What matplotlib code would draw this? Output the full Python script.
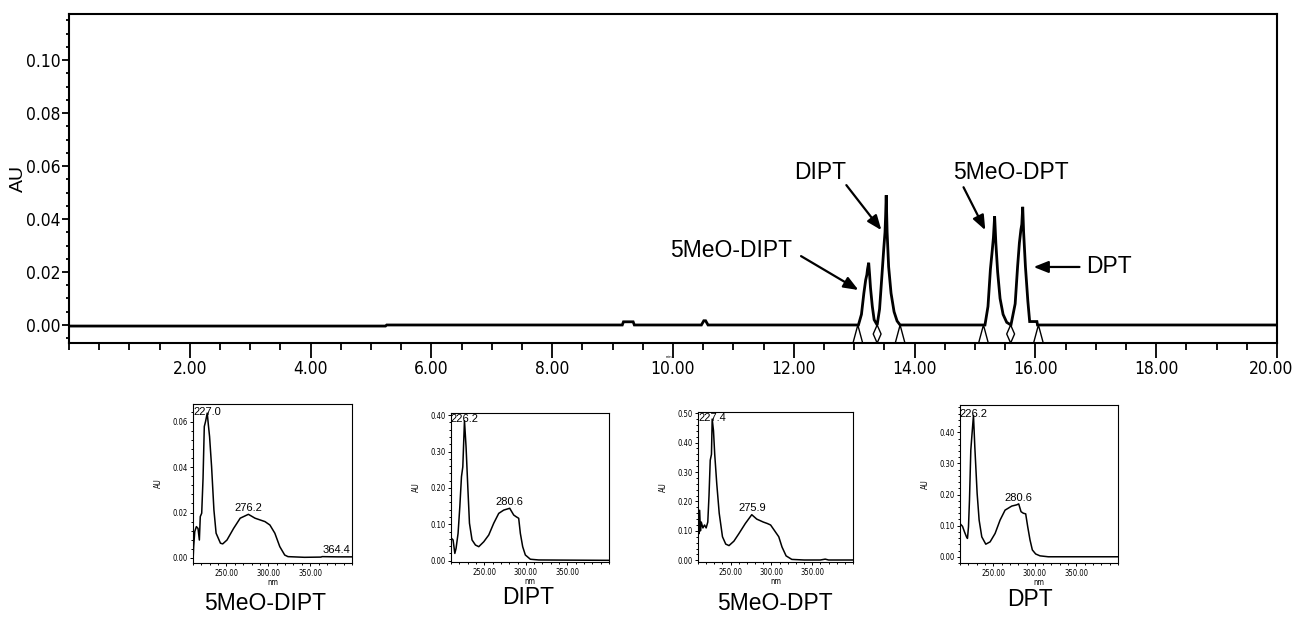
"""HPLC chromatogram of four tryptamines with their PDA UV spectra underneath."""

import numpy as np
import matplotlib

matplotlib.use("Agg")
import matplotlib.pyplot as plt
from matplotlib import font_manager
from matplotlib.transforms import ScaledTranslation
from matplotlib.ticker import MultipleLocator, FormatStrFormatter

W, H = 1294, 619

# chromatogram trace: retention time (min) vs absorbance (AU)
trace_t = [0.0, 5.24, 5.26, 9.16, 9.18, 9.34, 9.36, 10.47, 10.51, 10.54, 10.58,
           13.07, 13.12, 13.16, 13.19, 13.21, 13.22, 13.24, 13.255, 13.27, 13.30, 13.33,
           13.38, 13.42, 13.46, 13.49, 13.51, 13.52, 13.53, 13.545, 13.57, 13.61, 13.66, 13.71,
           13.76, 15.165, 15.215, 15.255, 15.285, 15.305, 15.325, 15.345, 15.375, 15.415,
           15.465, 15.525, 15.595, 15.665, 15.705, 15.735, 15.76, 15.775, 15.79, 15.805,
           15.835, 15.875, 15.905, 16.025, 16.035, 20.0]
trace_v = [-0.0004, -0.0004, 0.0, 0.0, 0.0012, 0.0012, 0.0, 0.0, 0.0016, 0.0016, 0.0,
           0.0, 0.004, 0.012, 0.017, 0.019, 0.021, 0.0235, 0.019, 0.014, 0.007, 0.002,
           0.0, 0.006, 0.019, 0.029, 0.035, 0.041, 0.049, 0.035, 0.022, 0.012, 0.005, 0.0015,
           0.0, 0.0, 0.007, 0.021, 0.028, 0.033, 0.041, 0.031, 0.020, 0.010, 0.004, 0.001,
           0.0, 0.008, 0.022, 0.031, 0.036, 0.038, 0.0446, 0.035, 0.022, 0.009, 0.0013,
           0.0013, 0.0, 0.0]

# integration boundaries
bound_t = [13.06, 13.38, 13.76, 15.14, 15.59, 16.05]
bound_kind = ["start", "valley", "end", "start", "valley", "end"]

peak_names = ["5MeO-DIPT", "DIPT", "5MeO-DPT", "DPT"]
time_ticks = [2, 4, 6, 8, 10, 12, 14, 16, 18, 20]

# UV spectra (nm, AU)
wl1 = [210, 210.8, 212.1, 214, 216, 217.6, 218.7, 220.4, 222, 223.5, 225, 227, 228.5, 229.8,
       232.2, 235, 237.6, 242.8, 245.5, 250.6, 258.5, 266.4, 276.2, 284.1, 296, 301.9, 307.8,
       313.7, 319.6, 323.5, 343.2, 362.8, 364.4, 382.5, 400]
au1 = [-0.0016, 0.005, 0.0116, 0.0138, 0.013, 0.0079, 0.0182, 0.0197, 0.035, 0.0578, 0.060,
       0.0637, 0.058, 0.0534, 0.0402, 0.0211, 0.0109, 0.0065, 0.0062, 0.0079, 0.013, 0.0175,
       0.0192, 0.0175, 0.016, 0.0145, 0.0109, 0.005, 0.0013, 0.0006, 0.0003, 0.0004, 0.0006,
       0.0005, 0.0005]
wl2 = [210, 210.6, 212.5, 214.6, 216.1, 218.5, 220.6, 222.6, 224.2, 226.2, 228.1, 230.2, 232.2,
       235.3, 239.4, 243.4, 249.4, 255.4, 261.4, 267.4, 273.4, 280.6, 285.4, 288.2, 291.4,
       293.4, 296.2, 299.4, 305.4, 315.4, 347.4, 400]
au2 = [0.048, 0.0615, 0.057, 0.020, 0.034, 0.075, 0.148, 0.231, 0.258, 0.385, 0.313, 0.203,
       0.103, 0.057, 0.043, 0.0385, 0.052, 0.0706, 0.103, 0.130, 0.139, 0.144, 0.1255, 0.121,
       0.1165, 0.075, 0.0385, 0.0157, 0.004, 0.002, 0.0016, 0.001]
wl3 = [210, 211, 212, 213, 214, 216, 218, 220, 222, 223.5, 225, 226.5, 227.4, 229, 230.5, 233,
       236, 240, 244, 248, 254, 260, 268, 275.9, 282, 290, 295, 299, 304, 309, 313, 318, 325,
       340, 360, 366, 370, 380, 400]
au3 = [0.13, 0.09, 0.17, 0.10, 0.13, 0.11, 0.12, 0.11, 0.13, 0.22, 0.34, 0.36, 0.48, 0.44, 0.36,
       0.26, 0.16, 0.08, 0.055, 0.05, 0.065, 0.09, 0.125, 0.155, 0.14, 0.13, 0.125, 0.12, 0.10,
       0.08, 0.045, 0.015, 0.003, 0.001, 0.001, 0.004, 0.001, 0.001, 0.001]
wl4 = [210, 210.6, 213, 215.4, 217.8, 219, 220.2, 221.4, 223, 224.2, 226.2, 227.8, 229, 230.6,
       233, 236.2, 241, 246.2, 252.2, 258.2, 264.2, 272.2, 278.2, 280.6, 283.4, 286.2, 289,
       291.4, 294.2, 297, 301, 306.2, 316.2, 400]
au4 = [0.096, 0.105, 0.098, 0.080, 0.064, 0.059, 0.096, 0.182, 0.343, 0.386, 0.455, 0.354, 0.29,
       0.204, 0.118, 0.064, 0.0405, 0.048, 0.075, 0.118, 0.150, 0.163, 0.167, 0.170, 0.145,
       0.140, 0.138, 0.097, 0.054, 0.022, 0.009, 0.003, 0.0, 0.0]
spec_peaks = [[227.0, 276.2, 364.4], [226.2, 280.6], [227.4, 275.9], [226.2, 280.6]]
wl_ticks = [250, 300, 350]

# fonts: condensed face for the instrument-style tick labels
_names = {f.name for f in font_manager.fontManager.ttflist}
if "Liberation Sans Narrow" in _names:
    plt.rcParams["font.family"] = ["Liberation Sans Narrow"]
else:
    plt.rcParams["font.family"] = ["DejaVu Sans"]
    plt.rcParams["font.stretch"] = "condensed"
SANS = dict(family="Liberation Sans", stretch="normal")


def px_axes(fig, l, t, r, b):
    return fig.add_axes([l / W, 1 - b / H, (r - l) / W, (b - t) / H])


fig = plt.figure(figsize=(W / 100, H / 100), dpi=100)

# ---- chromatogram ----
ax = px_axes(fig, 69, 14, 1277, 343)
YMIN, YMAX = -0.0068, 0.1174
ax.plot(trace_t, trace_v, color="k", lw=2.0, solid_joinstyle="miter")
for t, kind in zip(bound_t, bound_kind):
    if kind == "valley":
        hw = 0.065
        ax.plot([t, t - hw, t, t + hw, t], [0, YMIN / 2, YMIN, YMIN / 2, 0], color="k", lw=1.0)
    else:
        hw = 0.08
        ax.plot([t - hw, t, t + hw], [YMIN, 0, YMIN], color="k", lw=1.0)

ax.set_xticks(time_ticks)
ax.xaxis.set_minor_locator(MultipleLocator(0.5))
ax.yaxis.set_major_locator(MultipleLocator(0.02))
ax.yaxis.set_minor_locator(MultipleLocator(0.005))
ax.xaxis.set_major_formatter(FormatStrFormatter("%.2f"))
ax.yaxis.set_major_formatter(FormatStrFormatter("%.2f"))
ax.set_xlim(0.0, 20.0)
ax.set_ylim(YMIN, YMAX)
ax.tick_params(axis="both", which="both", direction="out", width=1.3, labelsize=12.5)
ax.tick_params(axis="x", which="major", length=11, pad=1)
ax.tick_params(axis="x", which="minor", length=5)
ax.tick_params(axis="y", which="major", length=5, pad=1)
ax.tick_params(axis="y", which="minor", length=2)
for s in ax.spines.values():
    s.set_linewidth(1.5)
# last time label sits against the figure edge
last = ax.get_xticklabels()[-1]
last.set_transform(last.get_transform() + ScaledTranslation(-6 / 100, 0, fig.dpi_scale_trans))
fig.text(18 / W, 1 - 178 / H, "AU", rotation=90, ha="center", va="center", fontsize=14, **SANS)
fig.text(669 / W, 1 - 357 / H, "min", ha="center", va="center", fontsize=3, **SANS)

# peak labels and arrows
label_xy = [(10.96, 0.0283), (12.44, 0.0574), (15.59, 0.0574), (17.21, 0.0219)]
arrow_from = [(12.12, 0.0260), (12.87, 0.0528), (14.81, 0.0520), (16.73, 0.0219)]
arrow_to = [(13.07, 0.0132), (13.45, 0.0358), (15.17, 0.0358), (15.97, 0.0219)]
for name, xy, a0, a1 in zip(peak_names, label_xy, arrow_from, arrow_to):
    ax.text(*xy, name, ha="center", va="center", fontsize=16.5, **SANS)
    ax.annotate("", xy=a1, xytext=a0,
                arrowprops=dict(arrowstyle="-|>,head_length=0.55,head_width=0.22",
                                mutation_scale=16, color="k", lw=1.6, shrinkA=0, shrinkB=0))

# ---- UV spectra insets ----
spectra = [(wl1, au1), (wl2, au2), (wl3, au3), (wl4, au4)]
inset_box = [(193, 404, 352, 563), (451, 413, 609, 562), (698, 412, 853, 562), (960, 405, 1118, 563)]
inset_ylim = [(-0.0022, 0.0677), (-0.0036, 0.4058), (-0.0058, 0.504), (-0.020, 0.488)]
inset_step = [(0.02, 0.004), (0.1, 0.02), (0.1, 0.02), (0.1, 0.02)]
title_px = [(265, 603), (528, 598), (775, 603), (1030, 600)]

for (wl, au), box, ylim, (maj, mnr), peaks, name, tp in zip(
        spectra, inset_box, inset_ylim, inset_step, spec_peaks, peak_names, title_px):
    sa = px_axes(fig, *box)
    sa.plot(wl, au, color="k", lw=1.1)
    sa.set_xticks(wl_ticks)
    sa.xaxis.set_minor_locator(MultipleLocator(10))
    sa.yaxis.set_major_locator(MultipleLocator(maj))
    sa.yaxis.set_minor_locator(MultipleLocator(mnr))
    sa.xaxis.set_major_formatter(FormatStrFormatter("%.2f"))
    sa.yaxis.set_major_formatter(FormatStrFormatter("%.2f"))
    sa.set_xlim(210, 400)
    sa.set_ylim(*ylim)
    sa.tick_params(axis="both", which="both", direction="out", width=0.7, labelsize=5.5, pad=1.5)
    sa.tick_params(axis="both", which="major", length=2.5)
    sa.tick_params(axis="both", which="minor", length=1.2)
    for s in sa.spines.values():
        s.set_linewidth(0.8)
    w_px = box[2] - box[0]
    h_px = box[3] - box[1]
    sa.set_ylabel("AU", fontsize=5.5)
    sa.yaxis.set_label_coords(-30 / w_px, 0.5)
    sa.set_xlabel("nm", fontsize=5.5)
    sa.xaxis.set_label_coords(0.5, -15 / h_px)
    for i, p in enumerate(peaks):
        y = float(np.interp(p, wl, au))
        if i == 0:
            sa.annotate(f"{p:.1f}", (p, y), xytext=(0, 1), textcoords="offset points",
                        ha="center", va="center", fontsize=8, **SANS)
        elif p > 340:
            sa.annotate(f"{p:.1f}", (p, y), xytext=(0, 1), textcoords="offset points",
                        ha="left", va="bottom", fontsize=8, **SANS)
        else:
            sa.annotate(f"{p:.1f}", (p, y), xytext=(0, 1), textcoords="offset points",
                        ha="center", va="bottom", fontsize=8, **SANS)
    fig.text(tp[0] / W, 1 - tp[1] / H, name, ha="center", va="center", fontsize=16.5, **SANS)

fig.savefig("out.png", dpi=100)
